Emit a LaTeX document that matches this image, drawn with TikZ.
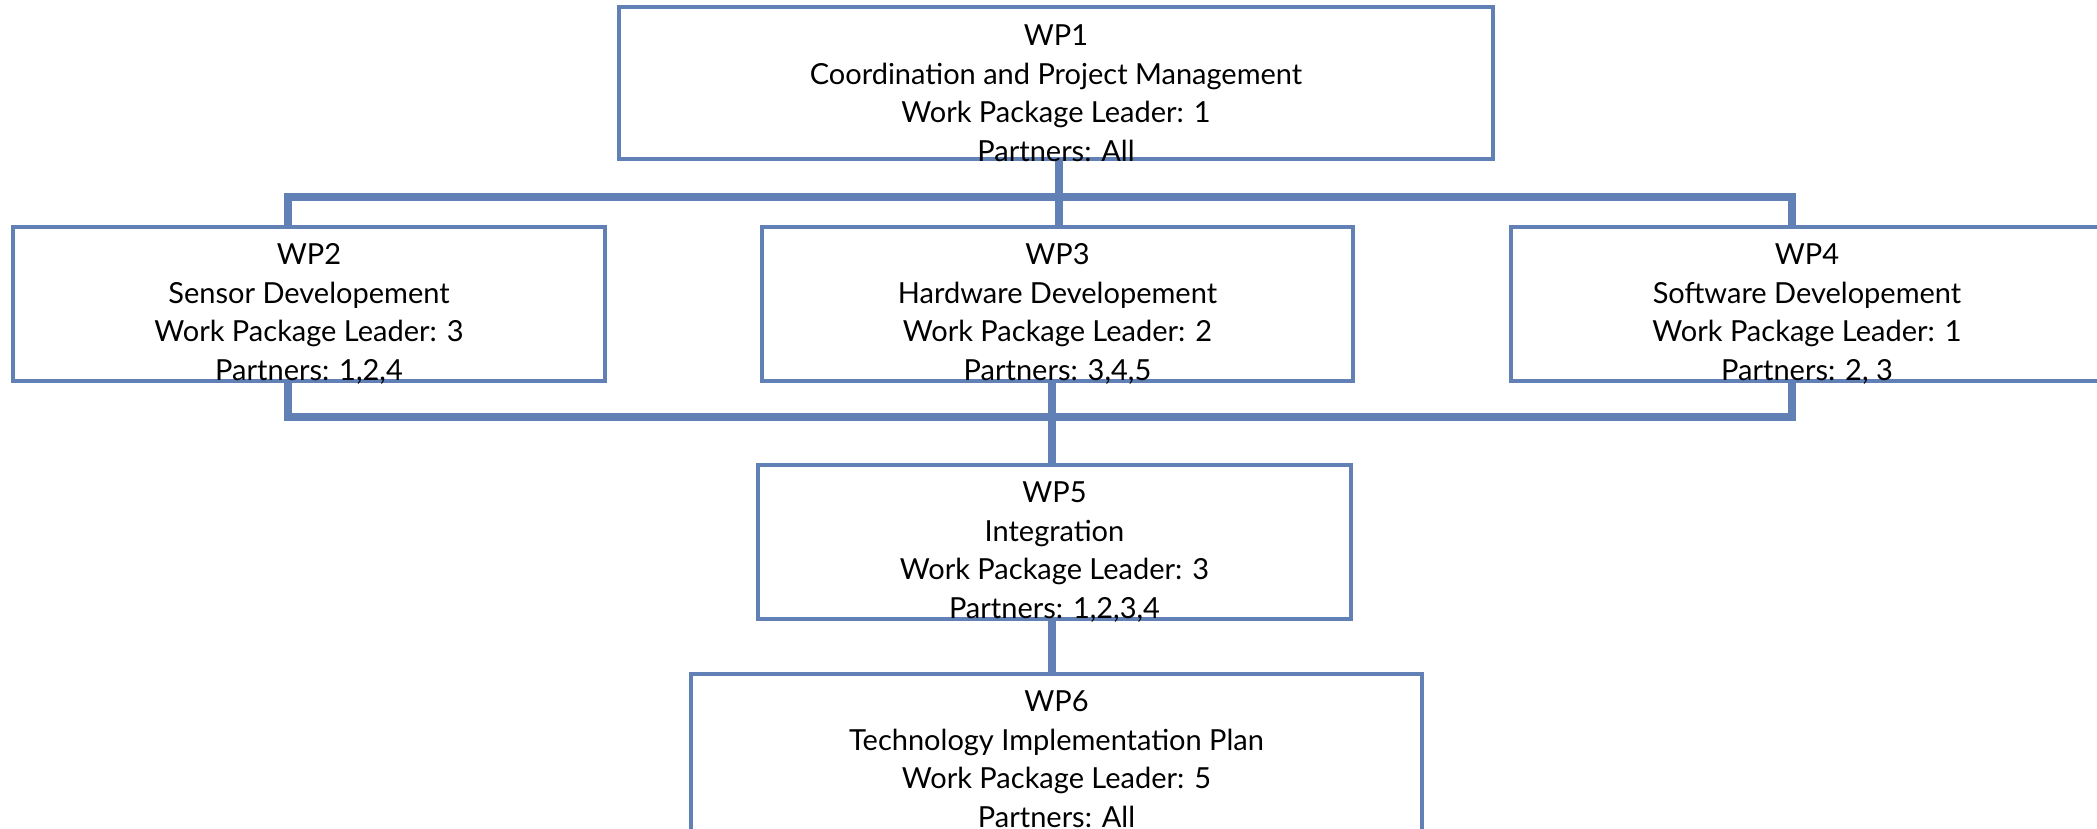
\documentclass[tikz,border=0pt]{standalone}
\usepackage{fontspec}
\setmainfont{Lato}
\definecolor{wpblue}{RGB}{96,128,182}
\begin{document}
\begin{tikzpicture}[x=1pt,y=-1pt,
  wpbox/.style={draw=wpblue,line width=4.5pt,rectangle,inner sep=0pt},
  wptext/.style={anchor=north,inner sep=0pt,align=center,
    font=\fontsize{29}{38.5}\selectfont,text=black},
  bus/.style={draw=wpblue,line width=8pt,line cap=butt,line join=miter}]
\useasboundingbox (0,0) rectangle (2097,828);
% boxes
\node[wpbox,minimum width=874pt,minimum height=152pt] (wp1) at (1056,83) {};
\node[wpbox,minimum width=592pt,minimum height=154pt] (wp2) at (309,304) {};
\node[wpbox,minimum width=591pt,minimum height=154pt] (wp3) at (1057.5,304) {};
\node[wpbox,minimum width=592pt,minimum height=154pt] (wp4) at (1807,304) {};
\node[wpbox,minimum width=593pt,minimum height=154pt] (wp5) at (1054.5,542) {};
\node[wpbox,minimum width=731pt,minimum height=162pt] (wp6) at (1056.5,755) {};
% connectors
\coordinate (b1l) at (288,197);
\coordinate (b1r) at (1792,197);
\coordinate (b2l) at (288,417);
\coordinate (b2r) at (1792,417);
\coordinate (c1) at (1059,197);
\coordinate (c2) at (1052,417);
\draw[bus] (c1 |- wp1.south) -- (c1 |- wp3.north);
\draw[bus] (b1l |- wp2.north) -- (b1l) -- (b1r) -- (b1r |- wp4.north);
\draw[bus] (b2l |- wp2.south) -- (b2l) -- (b2r) -- (b2r |- wp4.south);
\draw[bus] (c2 |- wp3.south) -- (c2 |- wp5.north);
\draw[bus] (c2 |- wp5.south) -- (c2 |- wp6.north);
% texts
\node[wptext] (t1) at ([yshift=-20pt]wp1.north) {WP1\\Coordination and Project Management\\Work Package Leader: 1\\Partners: All};
\node[wptext] (t2) at ([yshift=-19pt]wp2.north) {WP2\\Sensor Developement\\Work Package Leader: 3\\Partners: 1,2,4};
\node[wptext] (t3) at ([yshift=-19pt]wp3.north) {WP3\\Hardware Developement\\Work Package Leader: 2\\Partners: 3,4,5};
\node[wptext] (t4) at ([yshift=-19pt]wp4.north) {WP4\\Software Developement\\Work Package Leader: 1\\Partners: 2, 3};
\node[wptext] (t5) at ([yshift=-19pt]wp5.north) {WP5\\Integration\\Work Package Leader: 3\\Partners: 1,2,3,4};
\node[wptext] (t6) at ([yshift=-19pt]wp6.north) {WP6\\Technology Implementation Plan\\Work Package Leader: 5\\Partners: All};
\end{tikzpicture}
\end{document}
